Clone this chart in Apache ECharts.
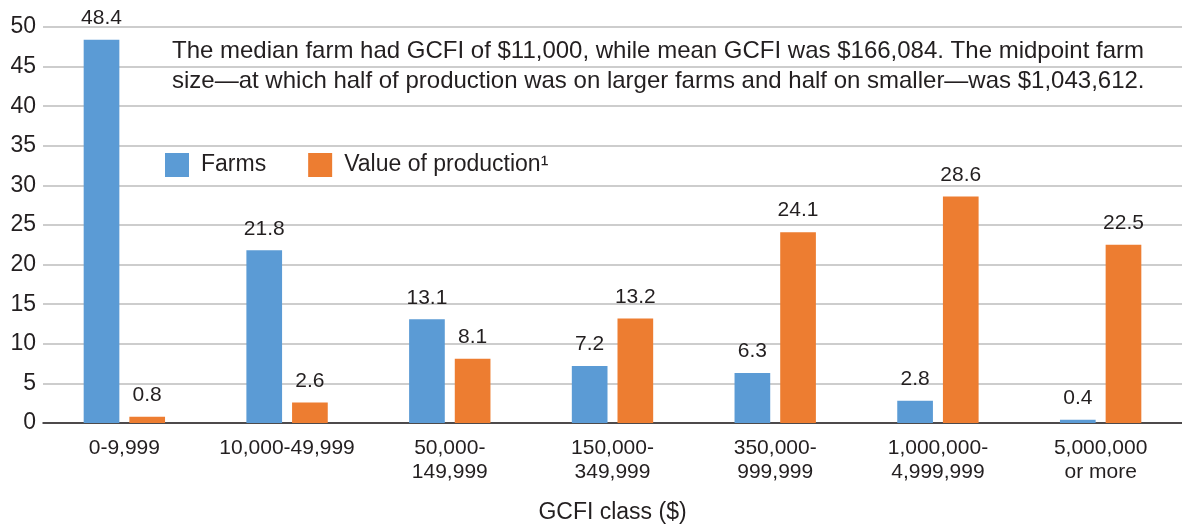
<!DOCTYPE html>
<html>
<head>
<meta charset="utf-8">
<script src="https://cdn.jsdelivr.net/npm/echarts@6/dist/echarts.min.js"></script>
<style>
  html, body { margin: 0; padding: 0; background: #fff; }
  #chart { width: 1182px; height: 527px; }
</style>
</head>
<body>
<div id="chart"></div>
<script>
// GCFI classes and shares (%)
const classes = ['0-9,999', '10,000-49,999', '50,000-\n149,999', '150,000-\n349,999', '350,000-\n999,999', '1,000,000-\n4,999,999', '5,000,000\nor more']
const farms = [48.4, 21.8, 13.1, 7.2, 6.3, 2.8, 0.4]
const production = [0.8, 2.6, 8.1, 13.2, 24.1, 28.6, 22.5]
const yTicks = { min: 0, max: 50, interval: 5 }
const note = [
  'The median farm had GCFI of $11,000, while mean GCFI was $166,084. The midpoint farm',
  'size\u2014at which half of production was on larger farms and half on smaller\u2014was $1,043,612.'
]

const chart = echarts.init(document.getElementById('chart'))
const font = 'Liberation Sans, Arial, Helvetica, sans-serif'
const barLabel = {
  show: true,
  position: 'top',
  distance: 11,
  color: '#231f20',
  fontSize: 21,
  fontFamily: font
}

chart.setOption({
  animation: false,
  textStyle: { fontFamily: font },
  grid: { left: 43, right: 0, top: 27, bottom: 104, outerBoundsMode: 'none' },
  legend: {
    left: 160,
    top: 148,
    itemWidth: 24,
    itemHeight: 24,
    itemGap: 42,
    icon: 'rect',
    textStyle: { fontSize: 23, color: '#231f20', fontFamily: font, padding: [0, 0, 0, 7] },
    data: ['Farms', 'Value of production\u00b9']
  },
  graphic: [{
    type: 'text',
    left: 172,
    top: 36,
    style: {
      text: note.join('\n'),
      fontSize: 24,
      lineHeight: 30,
      fill: '#231f20',
      fontFamily: font
    }
  }],
  xAxis: {
    type: 'category',
    data: classes,
    name: 'GCFI class ($)',
    nameLocation: 'middle',
    nameGap: 78,
    nameTextStyle: { fontSize: 23, color: '#231f20' },
    axisLine: { lineStyle: { color: '#231f20', width: 1.5 } },
    axisTick: { show: false },
    axisLabel: { interval: 0, fontSize: 21, color: '#231f20', lineHeight: 24, margin: 13 }
  },
  yAxis: {
    type: 'value',
    min: yTicks.min,
    max: yTicks.max,
    interval: yTicks.interval,
    axisLine: { show: false },
    axisTick: { show: false },
    axisLabel: { fontSize: 23, color: '#231f20', margin: 7 },
    splitLine: { lineStyle: { color: '#bcbcbc', width: 1.5 } }
  },
  series: [
    {
      name: 'Farms',
      type: 'bar',
      data: farms,
      itemStyle: { color: '#5b9bd5' },
      barGap: '28%',
      barCategoryGap: '50%',
      label: barLabel
    },
    {
      name: 'Value of production\u00b9',
      type: 'bar',
      data: production,
      itemStyle: { color: '#ed7d31' },
      label: barLabel
    }
  ]
})
</script>
</body>
</html>
